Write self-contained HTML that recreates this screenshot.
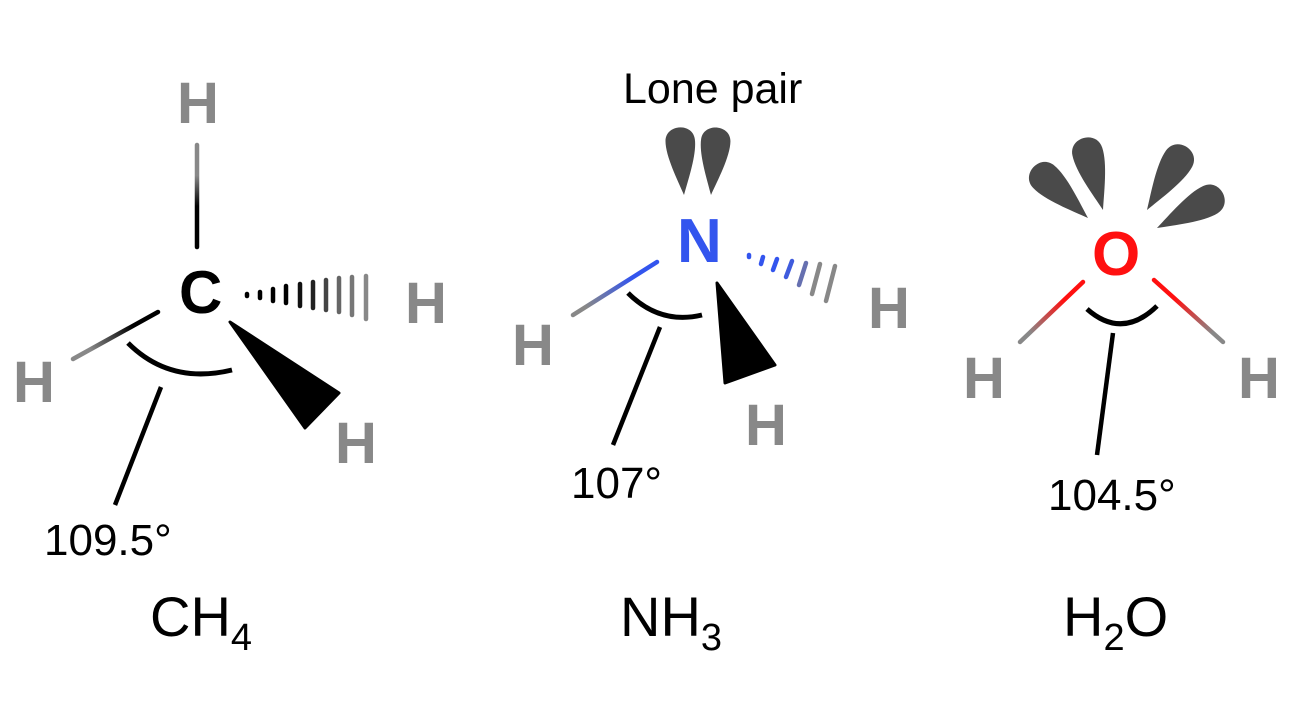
<!DOCTYPE html>
<html><head><meta charset="utf-8"><style>
html,body{margin:0;padding:0;background:#fff;}
svg{display:block;}
text{font-family:"Liberation Sans",Arial,sans-serif;}
</style></head><body>
<svg width="1300" height="724" viewBox="0 0 1300 724" xmlns="http://www.w3.org/2000/svg">
<defs>
<linearGradient id="gv" x1="0" y1="145" x2="0" y2="247" gradientUnits="userSpaceOnUse"><stop offset="0.3" stop-color="#888"/><stop offset="0.6" stop-color="#000"/></linearGradient>
<linearGradient id="gl" x1="158" y1="312" x2="73" y2="359" gradientUnits="userSpaceOnUse"><stop offset="0.3" stop-color="#000"/><stop offset="0.8" stop-color="#888"/></linearGradient>
<linearGradient id="nl" x1="657" y1="262" x2="573" y2="315" gradientUnits="userSpaceOnUse"><stop offset="0.3" stop-color="#3355ee"/><stop offset="0.85" stop-color="#888"/></linearGradient>
<linearGradient id="ol" x1="1083" y1="282" x2="1020" y2="342" gradientUnits="userSpaceOnUse"><stop offset="0.3" stop-color="#ff1010"/><stop offset="0.85" stop-color="#888"/></linearGradient>
<linearGradient id="or" x1="1154" y1="280" x2="1223" y2="342" gradientUnits="userSpaceOnUse"><stop offset="0.3" stop-color="#ff1010"/><stop offset="0.85" stop-color="#888"/></linearGradient>
<path id="lobe" d="M0,0 C-5,-15 -15,-40 -14,-55 C-13,-72 13,-72 14,-55 C15,-40 5,-15 0,0Z" fill="#4a4a4a"/>
</defs>

<!-- CH4 -->
<g font-weight="bold" fill="#888" font-size="58">
<text x="177" y="123">H</text>
<text x="405" y="323">H</text>
<text x="13" y="402">H</text>
<text x="335" y="463">H</text>
</g>
<text x="179" y="313" font-size="60" font-weight="bold" fill="#000">C</text>
<line x1="197" y1="145" x2="197" y2="247" stroke="url(#gv)" stroke-width="4.5" stroke-linecap="round"/>
<line x1="158" y1="312" x2="73" y2="359" stroke="url(#gl)" stroke-width="4.5" stroke-linecap="round"/>
<g stroke-linecap="round" stroke-width="4.5">
<line x1="247" y1="294" x2="247" y2="296" stroke="#000"/>
<line x1="260" y1="292" x2="260" y2="298" stroke="#000"/>
<line x1="273" y1="289" x2="273" y2="301" stroke="#000"/>
<line x1="286" y1="286" x2="286" y2="303" stroke="#000"/>
<line x1="300" y1="284" x2="300" y2="306" stroke="#111"/>
<line x1="313" y1="282" x2="313" y2="308" stroke="#222"/>
<line x1="326" y1="280" x2="326" y2="310" stroke="#444"/>
<line x1="339" y1="278" x2="339" y2="312" stroke="#666"/>
<line x1="352" y1="277" x2="352" y2="315" stroke="#777"/>
<line x1="366" y1="276" x2="366" y2="319" stroke="#888"/>
</g>
<path d="M230,322 L339,393 L305,428 Z" fill="#000" stroke="#000" stroke-width="3" stroke-linejoin="round"/>
<path d="M128,343 Q170,385 232,370" fill="none" stroke="#000" stroke-width="5"/>
<line x1="161" y1="387" x2="115" y2="505" stroke="#000" stroke-width="4.5"/>
<text x="44" y="555" font-size="44" fill="#000">109.5°</text>
<text x="150" y="636" font-size="56" fill="#000">CH<tspan font-size="38" dy="14">4</tspan></text>

<!-- NH3 -->
<text x="623" y="103" font-size="43" fill="#000">Lone pair</text>
<use href="#lobe" transform="translate(684,195) rotate(-4) scale(1.05,1.0)"/>
<use href="#lobe" transform="translate(711,195) rotate(5) scale(1.05,1.0)"/>
<text x="677" y="262" font-size="62" font-weight="bold" fill="#3355ee">N</text>
<line x1="657" y1="262" x2="573" y2="315" stroke="url(#nl)" stroke-width="4.5" stroke-linecap="round"/>
<g stroke-linecap="round" stroke-width="4.5">
<line x1="749" y1="255" x2="749" y2="257" stroke="#3355ee"/>
<line x1="763" y1="257" x2="761" y2="264" stroke="#3355ee"/>
<line x1="777" y1="259" x2="773" y2="270" stroke="#3355ee"/>
<line x1="792" y1="261" x2="786" y2="277" stroke="#3f5bdd"/>
<line x1="806" y1="263" x2="799" y2="285" stroke="#6670b0"/>
<line x1="820" y1="264" x2="812" y2="294" stroke="#888"/>
<line x1="835" y1="266" x2="826" y2="301" stroke="#888"/>
</g>
<path d="M717,283 L775,365 L725,383 Z" fill="#000" stroke="#000" stroke-width="3" stroke-linejoin="round"/>
<path d="M628,293 Q660,325 702,315" fill="none" stroke="#000" stroke-width="5"/>
<line x1="660" y1="327" x2="613" y2="445" stroke="#000" stroke-width="4.5"/>
<g font-weight="bold" fill="#888" font-size="58">
<text x="512" y="365">H</text>
<text x="868" y="328">H</text>
<text x="745" y="445">H</text>
</g>
<text x="571" y="498" font-size="44" fill="#000">107°</text>
<text x="620" y="636" font-size="56" fill="#000">NH<tspan font-size="38" dy="14">3</tspan></text>

<!-- H2O -->
<use href="#lobe" transform="translate(1088,218) rotate(-47) scale(1.1)"/>
<use href="#lobe" transform="translate(1103,210) rotate(-15) scale(1.1)"/>
<use href="#lobe" transform="translate(1147,210) rotate(32) scale(1.1)"/>
<use href="#lobe" transform="translate(1157,228) rotate(62) scale(1.1)"/>
<text x="1092" y="275" font-size="62" font-weight="bold" fill="#ff1010">O</text>
<line x1="1083" y1="282" x2="1020" y2="342" stroke="url(#ol)" stroke-width="4.5" stroke-linecap="round"/>
<line x1="1154" y1="280" x2="1223" y2="342" stroke="url(#or)" stroke-width="4.5" stroke-linecap="round"/>
<path d="M1087,309 Q1122,340 1157,306" fill="none" stroke="#000" stroke-width="5"/>
<line x1="1113" y1="333" x2="1097" y2="455" stroke="#000" stroke-width="4.5"/>
<g font-weight="bold" fill="#888" font-size="58">
<text x="963" y="398">H</text>
<text x="1238" y="398">H</text>
</g>
<text x="1048" y="510" font-size="44" fill="#000">104.5°</text>
<text x="1063" y="636" font-size="56" fill="#000">H<tspan font-size="38" dy="14">2</tspan><tspan dy="-14">O</tspan></text>
</svg>
</body></html>
